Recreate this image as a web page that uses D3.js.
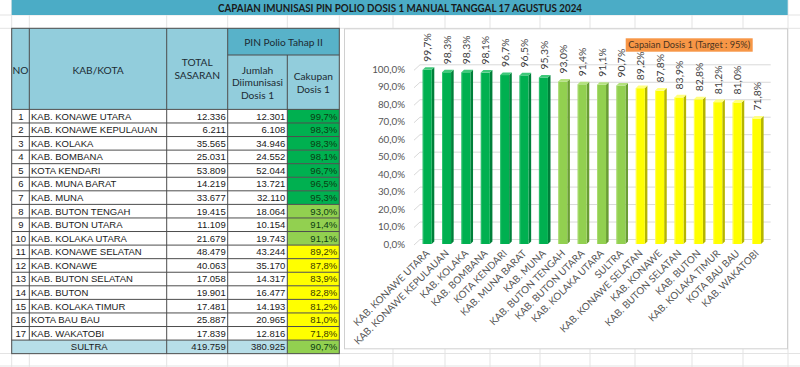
<!DOCTYPE html>
<html><head><meta charset="utf-8">
<script src="https://cdn.jsdelivr.net/npm/d3@7"></script>
<style>html,body{margin:0;padding:0;background:#fff;}svg{display:block;}</style>
</head><body>
<script>
// ---------- DATA ----------
const title = "CAPAIAN IMUNISASI PIN POLIO DOSIS 1 MANUAL TANGGAL 17 AGUSTUS 2024";
const regions = ["KAB. KONAWE UTARA","KAB. KONAWE KEPULAUAN","KAB. KOLAKA","KAB. BOMBANA","KOTA KENDARI","KAB. MUNA BARAT","KAB. MUNA","KAB. BUTON TENGAH","KAB. BUTON UTARA","KAB. KOLAKA UTARA","KAB. KONAWE SELATAN","KAB. KONAWE","KAB. BUTON SELATAN","KAB. BUTON","KAB. KOLAKA TIMUR","KOTA BAU BAU","KAB. WAKATOBI"];
const sasaran = [12336,6211,35565,25031,53809,14219,33677,19415,11109,21679,48479,40063,17058,19901,17481,25887,17839];
const diimunisasi = [12301,6108,34946,24552,52044,13721,32110,18064,10154,19743,43244,35170,14317,16477,14193,20965,12816];
const cakupan = [99.7,98.3,98.3,98.1,96.7,96.5,95.3,93.0,91.4,91.1,89.2,87.8,83.9,82.8,81.2,81.0,71.8];
const totalLabel = "SULTRA";
const totalSasaran = 419759, totalDiimunisasi = 380925, totalCakupan = 90.7;
const chartCategories = ["KAB. KONAWE UTARA","KAB. KONAWE KEPULAUAN","KAB. KOLAKA","KAB. BOMBANA","KOTA KENDARI","KAB. MUNA BARAT","KAB. MUNA","KAB. BUTON TENGAH","KAB. BUTON UTARA","KAB. KOLAKA UTARA","SULTRA","KAB. KONAWE SELATAN","KAB. KONAWE","KAB. BUTON SELATAN","KAB. BUTON","KAB. KOLAKA TIMUR","KOTA BAU BAU","KAB. WAKATOBI"];
const chartValues = [99.7,98.3,98.3,98.1,96.7,96.5,95.3,93.0,91.4,91.1,90.7,89.2,87.8,83.9,82.8,81.2,81.0,71.8];
const yTicks = [0,10,20,30,40,50,60,70,80,90,100];
const chartNote = "Capaian Dosis 1 (Target : 95%)";

// ---------- HELPERS ----------
const fmtInt = v => d3.format(",")(v).replace(/,/g, ".");
const fmtPct = v => v.toFixed(1).replace(".", ",") + "%";
function levelColor(v){ return v >= 95 ? "#00B050" : (v >= 90 ? "#92D050" : "#FFFF00"); }
function sideColor(v){ return v >= 95 ? "#00803a" : (v >= 90 ? "#6a9e34" : "#b5b500"); }
function topColor(v){ return v >= 95 ? "#3fc97a" : (v >= 90 ? "#b4e27e" : "#ffff80"); }

const W = 800, H = 367;
const svg = d3.select("body").append("svg").attr("width", W).attr("height", H);

// ---------- SPREADSHEET BACKGROUND GRID ----------
const bgCols = [11.7,29.3,166.7,227.7,287.3,339.3,393,445,490,540,590,635,692,743,788];
const bg = svg.append("g").attr("stroke", "#e3e3e3").attr("stroke-width", 1);
bgCols.forEach(x => bg.append("line").attr("x1", x).attr("x2", x).attr("y1", 0).attr("y2", H));
[15, 28.3, 353.5, 366].forEach(y => bg.append("line").attr("x1", 0).attr("x2", W).attr("y1", y).attr("y2", y));

// ---------- TITLE ----------
svg.append("rect").attr("x", 11.7).attr("y", 0).attr("width", 776).attr("height", 15).attr("fill", "#4BACC6");
svg.append("text").attr("x", 400).attr("y", 11.5).attr("text-anchor", "middle")
  .attr("font-family", "Lato, 'Open Sans', sans-serif").attr("font-weight", "bold").attr("font-size", 11.2)
  .attr("textLength", 364).attr("lengthAdjust", "spacingAndGlyphs")
  .attr("fill", "#1a1a1a").text(title);

// ---------- TABLE ----------
const colX = [11.7, 29.3, 166.7, 227.7, 287.3, 339.3];
const headTop = 28.3, headMid = 55, headBot = 109.4, rowH = 13.57;
const tbl = svg.append("g");
const hdrLight = "#92CDDC", hdrDark = "#58B2C9", totalFill = "#B7DEE8";
const lineCol = "#4d4d4d";

tbl.append("rect").attr("x", colX[0]).attr("y", headTop).attr("width", colX[3]-colX[0]).attr("height", headBot-headTop).attr("fill", hdrLight);
tbl.append("rect").attr("x", colX[3]).attr("y", headTop).attr("width", colX[5]-colX[3]).attr("height", headMid-headTop).attr("fill", hdrDark);
tbl.append("rect").attr("x", colX[3]).attr("y", headMid).attr("width", colX[5]-colX[3]).attr("height", headBot-headMid).attr("fill", hdrLight);

const nRows = regions.length;
const bodyTop = headBot;
const rowsData = regions.map((r, i) => ({no: i+1, name: r, s: sasaran[i], d: diimunisasi[i], c: cakupan[i]}));

const rowsG = tbl.append("g");
rowsData.forEach((r, i) => {
  const y = bodyTop + i*rowH;
  rowsG.append("rect").attr("x", colX[0]).attr("y", y).attr("width", colX[4]-colX[0]).attr("height", rowH).attr("fill", "#fff");
  rowsG.append("rect").attr("x", colX[4]).attr("y", y).attr("width", colX[5]-colX[4]).attr("height", rowH).attr("fill", levelColor(r.c));
});
const totY = bodyTop + nRows*rowH;
rowsG.append("rect").attr("x", colX[0]).attr("y", totY).attr("width", colX[4]-colX[0]).attr("height", rowH).attr("fill", totalFill);
rowsG.append("rect").attr("x", colX[4]).attr("y", totY).attr("width", colX[5]-colX[4]).attr("height", rowH).attr("fill", levelColor(totalCakupan));

const tl = tbl.append("g").attr("stroke", lineCol).attr("stroke-width", 1).attr("fill", "none");
const tabBot = totY + rowH;
tl.append("rect").attr("x", colX[0]).attr("y", headTop).attr("width", colX[5]-colX[0]).attr("height", tabBot-headTop);
[1,2,3].forEach(k => tl.append("line").attr("x1", colX[k]).attr("x2", colX[k]).attr("y1", headTop).attr("y2", totY));
tl.append("line").attr("x1", colX[3]).attr("x2", colX[3]).attr("y1", totY).attr("y2", tabBot);
tl.append("line").attr("x1", colX[2]).attr("x2", colX[2]).attr("y1", totY).attr("y2", tabBot);
tl.append("line").attr("x1", colX[4]).attr("x2", colX[4]).attr("y1", headMid).attr("y2", tabBot);
tl.append("line").attr("x1", colX[3]).attr("x2", colX[5]).attr("y1", headMid).attr("y2", headMid);
for (let i = 0; i <= nRows; i++) {
  const y = bodyTop + i*rowH;
  tl.append("line").attr("x1", colX[0]).attr("x2", colX[5]).attr("y1", y).attr("y2", y);
}

const hFont = "Lato, 'Open Sans', sans-serif";
function htext(x, y, t) {
  tbl.append("text").attr("x", x).attr("y", y).attr("text-anchor", "middle")
    .attr("font-family", hFont).attr("font-size", 10.2).attr("fill", "#1c2b33").text(t);
}
htext((colX[0]+colX[1])/2, 73.5, "NO");
htext((colX[1]+colX[2])/2, 73.5, "KAB/KOTA");
htext((colX[2]+colX[3])/2, 66, "TOTAL");
htext((colX[2]+colX[3])/2, 79, "SASARAN");
htext((colX[3]+colX[5])/2, 46, "PIN Polio Tahap II");
htext((colX[3]+colX[4])/2, 73.5, "Jumlah");
htext((colX[3]+colX[4])/2, 86, "Diimunisasi");
htext((colX[3]+colX[4])/2, 99, "Dosis 1");
htext((colX[4]+colX[5])/2, 79.5, "Cakupan");
htext((colX[4]+colX[5])/2, 92.5, "Dosis 1");

const bFont = "'Liberation Sans', Arial, sans-serif";
const txt = tbl.append("g").attr("font-family", bFont).attr("font-size", 9.5).attr("fill", "#1a1a1a");
rowsData.forEach((r, i) => {
  const y = bodyTop + i*rowH + rowH/2 + 3.4;
  txt.append("text").attr("x", 20.8).attr("y", y).attr("text-anchor", "middle").text(r.no);
  txt.append("text").attr("x", 31).attr("y", y).text(r.name);
  txt.append("text").attr("x", colX[3]-2).attr("y", y).attr("text-anchor", "end").text(fmtInt(r.s));
  txt.append("text").attr("x", colX[4]-2).attr("y", y).attr("text-anchor", "end").text(fmtInt(r.d));
  txt.append("text").attr("x", colX[5]-2).attr("y", y).attr("text-anchor", "end")
    .attr("fill", r.c >= 90 ? "#0b3d12" : "#3b3b00").text(fmtPct(r.c));
});
{
  const y = totY + rowH/2 + 3.4;
  txt.append("text").attr("x", (colX[0]+colX[2])/2).attr("y", y).attr("text-anchor", "middle").text(totalLabel);
  txt.append("text").attr("x", colX[3]-2).attr("y", y).attr("text-anchor", "end").text(fmtInt(totalSasaran));
  txt.append("text").attr("x", colX[4]-2).attr("y", y).attr("text-anchor", "end").text(fmtInt(totalDiimunisasi));
  txt.append("text").attr("x", colX[5]-2).attr("y", y).attr("text-anchor", "end").attr("fill", "#0b3d12").text(fmtPct(totalCakupan));
}

// ---------- CHART ----------
svg.append("rect").attr("x", 344.5).attr("y", 28.8).attr("width", 443).attr("height", 320)
  .attr("fill", "#fff").attr("stroke", "#d0d0d0").attr("stroke-width", 1);

const cFont = "Lato, 'Open Sans', sans-serif";
const y = d3.scaleLinear().domain([0, 100]).range([244, 69.3]);
const x = d3.scaleBand().domain(chartCategories).range([413.0, 770.7]).paddingInner(0.535).paddingOuter(0.5);
const depth = 4.5;
const bd = 2.6;

const grid = svg.append("g").attr("stroke", "#d9d9d9").attr("stroke-width", 1).attr("fill", "none");
yTicks.forEach(t => {
  const yy = y(t);
  grid.append("path").attr("d", `M${x.range()[0]+1},${yy+1}L${x.range()[0]+7},${yy-depth}L${x.range()[1]},${yy-depth}`);
});

const yAxis = d3.axisLeft(y).tickValues(yTicks).tickSize(0).tickPadding(0)
  .tickFormat(d => d.toFixed(1).replace(".", ",") + "%");
const ya = svg.append("g").attr("transform", "translate(405,0)").call(yAxis);
ya.select(".domain").remove();
ya.selectAll("text").attr("font-family", cFont).attr("font-size", 9.8).attr("fill", "#555");

const bars = svg.append("g");
chartCategories.forEach((c, i) => {
  const v = chartValues[i];
  const x0 = x(c), w = x.bandwidth(), yt = y(v), yb = y(0);
  bars.append("path").attr("d", `M${x0+w},${yt}L${x0+w+bd},${yt-bd}L${x0+w+bd},${yb-bd}L${x0+w},${yb}Z`).attr("fill", sideColor(v));
  bars.append("rect").attr("x", x0).attr("y", yt).attr("width", w).attr("height", yb-yt).attr("fill", levelColor(v));
  bars.append("rect").attr("x", x0).attr("y", yt).attr("width", 1).attr("height", yb-yt).attr("fill", topColor(v)).attr("opacity", 0.7);
  bars.append("path").attr("d", `M${x0},${yt}L${x0+bd},${yt-bd}L${x0+w+bd},${yt-bd}L${x0+w},${yt}Z`).attr("fill", topColor(v));
  const cx = x0 + w/2 + 0.5;
  bars.append("text").attr("transform", `translate(${cx},${yt-8}) rotate(-90)`)
    .attr("dy", "0.35em").attr("font-family", cFont).attr("font-size", 10.4).attr("fill", "#404040")
    .text(fmtPct(v));
});

const xl = svg.append("g");
chartCategories.forEach(c => {
  const cx = x(c) + x.bandwidth()/2;
  xl.append("text").attr("transform", `translate(${cx+3},${254}) rotate(-45)`)
    .attr("text-anchor", "end").attr("font-family", cFont).attr("font-size", 9.9).attr("fill", "#555")
    .text(c);
});

svg.append("rect").attr("x", 625.7).attr("y", 38.3).attr("width", 127).attr("height", 13.4).attr("fill", "#F79646");
svg.append("text").attr("x", 689.2).attr("y", 48.3).attr("text-anchor", "middle")
  .attr("font-family", cFont).attr("font-size", 9.5).attr("textLength", 122).attr("lengthAdjust", "spacingAndGlyphs")
  .attr("fill", "#4a3320").text(chartNote);
</script>
</body></html>
